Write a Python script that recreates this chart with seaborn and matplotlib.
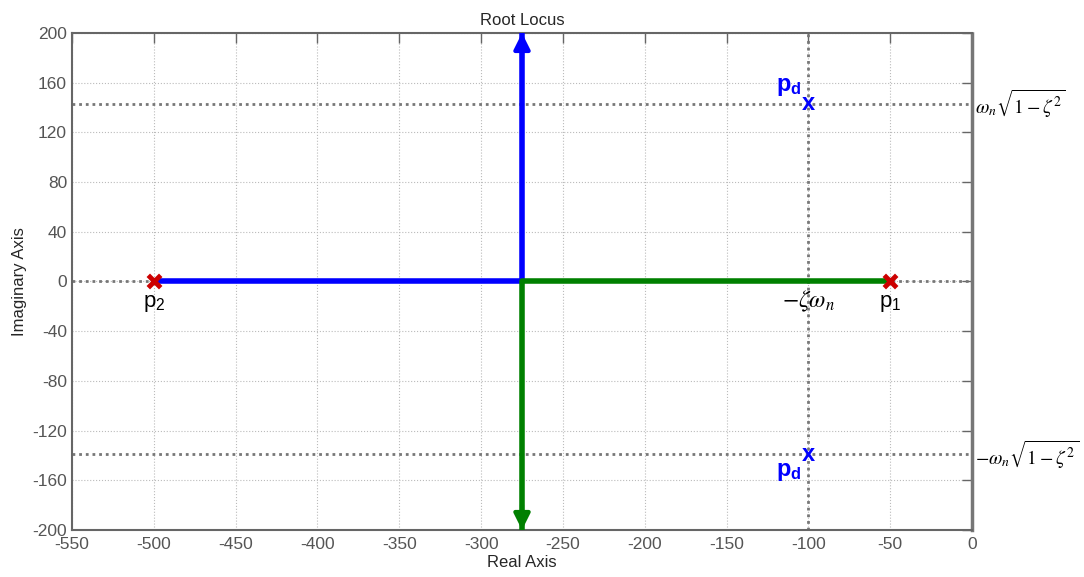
import pandas as pd
import matplotlib.pyplot as plt
import seaborn as sns

# poles and locus data
p1 = -50
p2 = -500
breakaway = -275
pd_re = -100
pd_im_up = 143
pd_im_dn = -139

blue_re = [-500, -275, -275]
blue_im = [0, 0, 200]
green_re = [-50, -275, -275]
green_im = [0, 0, -200]

x_ticks = list(range(-550, 1, 50))
y_ticks = list(range(-200, 201, 40))

df = pd.DataFrame({
    'Real': blue_re + green_re,
    'Imag': blue_im + green_im,
    'branch': ['b'] * 3 + ['g'] * 3,
})

sns.set_style('white')
plt.rcParams['font.family'] = ['Liberation Sans', 'DejaVu Sans']
plt.rcParams['mathtext.fontset'] = 'stix'
plt.rcParams['axes.unicode_minus'] = False

fig = plt.figure(figsize=(10.84, 5.77), dpi=100)
ax = fig.add_axes([0.0664, 0.0815, 0.8303, 0.8613])

ax.grid(True, color='#bbbbbb', linestyle=':', linewidth=0.8)
dot = (0, (1, 1.4))
ax.axhline(0, color='#777777', linestyle=dot, linewidth=2, zorder=1)
ax.axvline(pd_re, color='#777777', linestyle=dot, linewidth=2, zorder=1)
ax.axhline(pd_im_up, color='#777777', linestyle=dot, linewidth=2, zorder=1)
ax.axhline(pd_im_dn, color='#777777', linestyle=dot, linewidth=2, zorder=1)

sns.lineplot(data=df, x='Real', y='Imag', hue='branch', sort=False, estimator=None,
             palette={'b': '#0000ff', 'g': '#008000'}, linewidth=4, legend=False, ax=ax, zorder=3)

# arrow heads at the ends of the branches
ax.annotate('', xy=(breakaway, 200), xytext=(breakaway, 180),
            arrowprops=dict(arrowstyle='-|>', color='#0000ff', lw=3, mutation_scale=24, shrinkA=0, shrinkB=0), zorder=4)
ax.annotate('', xy=(breakaway, -200), xytext=(breakaway, -180),
            arrowprops=dict(arrowstyle='-|>', color='#008000', lw=3, mutation_scale=24, shrinkA=0, shrinkB=0), zorder=4)

# open loop poles
ax.scatter([p1, p2], [0, 0], marker='x', s=80, linewidths=3.5, color='#cc0000', zorder=5)
ax.text(p1, -9, r'$\mathregular{p_1}$', ha='center', va='top', fontsize=16, color='black')
ax.text(p2, -9, r'$\mathregular{p_2}$', ha='center', va='top', fontsize=16, color='black')

# desired poles
ax.text(pd_re, pd_im_up, 'x', ha='center', va='center', fontsize=17, color='#0000ff',
        fontweight='bold', zorder=5)
ax.text(pd_re, pd_im_dn, 'x', ha='center', va='center', fontsize=17, color='#0000ff',
        fontweight='bold', zorder=5)
ax.text(pd_re - 4, pd_im_up + 5, r'$\mathregular{p_d}$', ha='right', va='bottom', fontsize=17,
        color='#0000ff', fontweight='bold')
ax.text(pd_re - 4, pd_im_dn - 5, r'$\mathregular{p_d}$', ha='right', va='top', fontsize=17,
        color='#0000ff', fontweight='bold')

ax.text(pd_re, -6, r'$-\zeta\omega_n$', ha='center', va='top', fontsize=17, color='black')
ax.text(2, pd_im_up, r'$\omega_n\sqrt{1-\zeta^2}$', ha='left', va='center', fontsize=14,
        color='black', clip_on=False)
ax.text(2, pd_im_dn, r'$-\omega_n\sqrt{1-\zeta^2}$', ha='left', va='center', fontsize=14,
        color='black', clip_on=False)

ax.set_xlim(-550, 0)
ax.set_ylim(-200, 200)
ax.set_xticks(x_ticks)
ax.set_yticks(y_ticks)
ax.tick_params(direction='in', length=7, width=1, top=True, right=True, colors='#666666',
               labelsize=12.5, labelcolor='#555555')
ax.tick_params(axis='x', pad=5)

for s in ['left', 'top', 'bottom']:
    ax.spines[s].set_color('#666666')
    ax.spines[s].set_linewidth(1.5)
ax.spines['right'].set_color('#777777')
ax.spines['right'].set_linewidth(2.5)
ax.spines['right'].set_linestyle((0, (1, 1)))

ax.set_xlabel('Real Axis', fontsize=12, labelpad=2)
ax.set_ylabel('Imaginary Axis', fontsize=12, labelpad=4)
ax.set_title('Root Locus', fontsize=12, pad=6)

plt.savefig('out.png', dpi=100)
